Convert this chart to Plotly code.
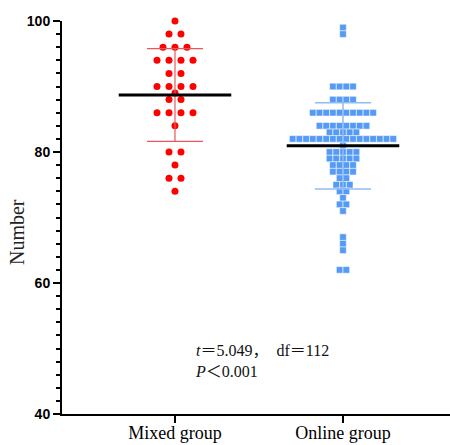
import numpy as np
import plotly.graph_objects as go
from collections import Counter

# ---- data ----
categories = ["Mixed group", "Online group"]
mixed_values = [100, 98, 98, 96, 96, 96, 94, 94, 94, 94, 92, 92,
                90, 90, 90, 90, 89, 88, 88, 86, 86, 86, 86, 84,
                80, 80, 78, 76, 76, 74]
online_values = ([99, 98] + [90] * 4 + [88] * 4 + [86] * 10 + [84] * 8 +
                 [83] * 5 + [82] * 16 + [81] * 1 + [80] * 5 + [79] * 5 +
                 [78] * 4 + [77] * 4 + [76] * 2 + [75] * 3 + [74] * 2 +
                 [73] * 1 + [72] * 2 + [71] * 1 + [67, 66, 65] + [62] * 2)
y_ticks = [40, 60, 80, 100]
stats_line1 = "<i>t</i>＝5.049，  df＝112"
stats_line2 = "<i>P</i>＜0.001"
y_title = "Number"


def swarm(values, center, step):
    """Arrange repeated values side by side, centred on the category."""
    counts = Counter(values)
    xs, ys = [], []
    for v in sorted(counts, reverse=True):
        n = counts[v]
        for i in range(n):
            xs.append(center + (i - (n - 1) / 2) * step)
            ys.append(v)
    return xs, ys


fig = go.Figure()

groups = [
    dict(vals=mixed_values, c=0, step=0.0714, symbol="circle", size=7,
         color="#ff0000", line_w=0, bar="#e8585a", bar_w=1.2),
    dict(vals=online_values, c=1, step=0.0399, symbol="square", size=6.6,
         color="#559bf5", line_w=0.5, bar="#8fbdf2", bar_w=1.5),
]

for g in groups:
    xs, ys = swarm(g["vals"], g["c"], g["step"])
    fig.add_trace(go.Scatter(
        x=xs, y=ys, mode="markers", cliponaxis=False,
        marker=dict(symbol=g["symbol"], size=g["size"], color=g["color"],
                    line=dict(width=g["line_w"], color="white")),
        hoverinfo="y", showlegend=False))

for g in groups:
    m = float(np.mean(g["vals"]))
    sd = float(np.std(g["vals"], ddof=1))
    c = g["c"]
    cap = 0.167
    fig.add_trace(go.Scatter(
        x=[c, c, None, c - cap, c + cap, None, c - cap, c + cap],
        y=[m - sd, m + sd, None, m + sd, m + sd, None, m - sd, m - sd],
        mode="lines", line=dict(color=g["bar"], width=g["bar_w"]),
        hoverinfo="skip", showlegend=False))
    fig.add_trace(go.Scatter(
        x=[c - 0.335, c + 0.335], y=[m, m], mode="lines",
        line=dict(color="black", width=3),
        hoverinfo="skip", showlegend=False))

fig.update_layout(
    width=450, height=445,
    margin=dict(l=62, r=0, t=21, b=31),
    paper_bgcolor="white", plot_bgcolor="white",
    font=dict(family="Liberation Serif", color="black"),
    xaxis=dict(range=[-0.6726, 1.637], tickvals=[0, 1], ticktext=categories,
               automargin=False, ticklabelstandoff=-6,
               showgrid=False, zeroline=False, showline=True,
               linecolor="black", linewidth=2, ticks="outside", ticklen=7,
               tickwidth=2, tickcolor="black",
               tickfont=dict(family="Liberation Serif", size=18, color="black")),
    yaxis=dict(range=[40, 100], tickvals=y_ticks, showgrid=False,
               automargin=False,
               zeroline=False, showline=True, linecolor="black", linewidth=2,
               ticks="outside", ticklen=7, tickwidth=2, tickcolor="black",
               tickfont=dict(family="Liberation Sans", size=14, color="black",
                             weight="bold"),
               minor=dict(dtick=2, ticks="outside", ticklen=4, tickwidth=1.5,
                          tickcolor="black", showgrid=False)),
    annotations=[
        dict(text=y_title, xref="paper", yref="paper", x=-0.116, y=0.463,
             xanchor="center", yanchor="middle", textangle=-90,
             showarrow=False,
             font=dict(family="Liberation Serif", size=20, color="#222")),
        dict(text=stats_line1 + "<br>" + stats_line2, xref="paper",
             yref="paper", x=0.3376, y=0.136, xanchor="left",
             yanchor="middle", align="left", showarrow=False,
             font=dict(family="Liberation Serif, Noto Sans CJK SC", size=16,
                       color="#111")),
    ],
)

fig.write_html("out.html")
